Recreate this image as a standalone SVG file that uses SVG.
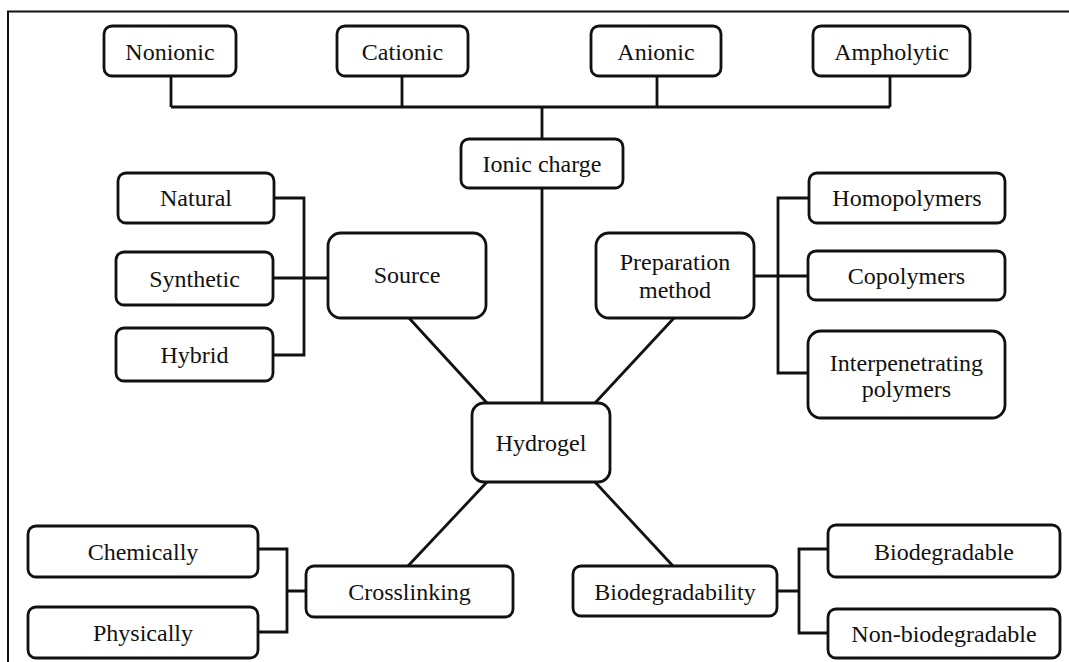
<svg xmlns="http://www.w3.org/2000/svg" width="1069" height="662" viewBox="0 0 1069 662">
<style>
.b{fill:#fff;stroke:#111;stroke-width:2.8}
.c{fill:none;stroke:#111;stroke-width:2.8}
text{font-family:'Liberation Serif','DejaVu Serif',serif;font-size:24px;fill:#111;text-anchor:middle}
</style>
<rect width="1069" height="662" fill="#fff"/>
<path d="M8,662 V11.5 H1069" fill="none" stroke="#111" stroke-width="2"/>
<g id="connectors" class="c">
<path class="c" d="M171,76 V107 M402,76 V107 M657,76 V107 M890,76 V107 M171,107 H890 M542,107 V139"/>
<path class="c" d="M542,188 V403"/>
<path class="c" d="M274,198 H304 V355 H273 M273,278 H328"/>
<path class="c" d="M409,318 L487,403"/>
<path class="c" d="M674,318 L595,403"/>
<path class="c" d="M809,198 H778 V373 H808 M754,276 H808"/>
<path class="c" d="M408,566 L487,482"/>
<path class="c" d="M673,566 L595,482"/>
<path class="c" d="M258,549 H287 V632 H258 M287,591 H306"/>
<path class="c" d="M777,591 H799 M828,549 H799 V633 H828"/>
</g>
<g id="nonionic"><rect class="b" x="104" y="26" width="132" height="50" rx="8"/><text x="170" y="60">Nonionic</text></g>
<g id="cationic"><rect class="b" x="337" y="26" width="131" height="50" rx="8"/><text x="402.5" y="60">Cationic</text></g>
<g id="anionic"><rect class="b" x="591" y="26" width="130" height="50" rx="8"/><text x="656" y="60">Anionic</text></g>
<g id="ampholytic"><rect class="b" x="813" y="26" width="157" height="50" rx="8"/><text x="891.5" y="60">Ampholytic</text></g>
<g id="ionic-charge"><rect class="b" x="461" y="139" width="162" height="49" rx="8"/><text x="542" y="172">Ionic charge</text></g>
<g id="natural"><rect class="b" x="118" y="173" width="156" height="50" rx="8"/><text x="196" y="206">Natural</text></g>
<g id="synthetic"><rect class="b" x="116" y="252" width="157" height="53" rx="8"/><text x="194.5" y="287">Synthetic</text></g>
<g id="hybrid"><rect class="b" x="116" y="328" width="157" height="53" rx="8"/><text x="194.5" y="363">Hybrid</text></g>
<g id="source"><rect class="b" x="328" y="233" width="158" height="85" rx="13"/><text x="407" y="283">Source</text></g>
<g id="preparation-method"><rect class="b" x="596" y="233" width="158" height="85" rx="13"/><text x="675" y="270">Preparation</text><text x="675" y="298">method</text></g>
<g id="homopolymers"><rect class="b" x="809" y="173" width="196" height="50" rx="8"/><text x="907" y="206">Homopolymers</text></g>
<g id="copolymers"><rect class="b" x="808" y="251" width="197" height="49" rx="8"/><text x="906.5" y="284">Copolymers</text></g>
<g id="interpenetrating"><rect class="b" x="808" y="331" width="197" height="87" rx="13"/><text x="906.5" y="371">Interpenetrating</text><text x="906.5" y="397">polymers</text></g>
<g id="hydrogel"><rect class="b" x="472" y="403" width="138" height="79" rx="12"/><text x="541" y="451">Hydrogel</text></g>
<g id="crosslinking"><rect class="b" x="306" y="566" width="207" height="51" rx="8"/><text x="409.5" y="600">Crosslinking</text></g>
<g id="chemically"><rect class="b" x="28" y="526" width="230" height="51" rx="8"/><text x="143" y="560">Chemically</text></g>
<g id="physically"><rect class="b" x="28" y="607" width="230" height="51" rx="8"/><text x="143" y="641">Physically</text></g>
<g id="biodegradability"><rect class="b" x="573" y="566" width="204" height="50" rx="8"/><text x="675" y="600">Biodegradability</text></g>
<g id="biodegradable"><rect class="b" x="828" y="525" width="232" height="52" rx="8"/><text x="944" y="560">Biodegradable</text></g>
<g id="non-biodegradable"><rect class="b" x="828" y="609" width="232" height="49" rx="8"/><text x="944" y="642">Non-biodegradable</text></g>
</svg>
